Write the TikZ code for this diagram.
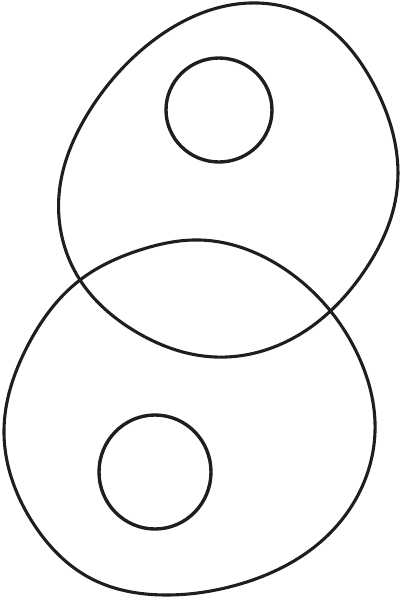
\documentclass[tikz,border=0pt]{standalone}
\usepackage{tikz}
\usetikzlibrary{calc,hobby}
\definecolor{ringgray}{RGB}{30,30,30}

\begin{document}
\begin{tikzpicture}[x=0.025cm,y=-0.025cm,
		  ring/.style={draw=ringgray,line width=2.2pt,use Hobby shortcut,closed=true},
		  smallring/.style={draw=ringgray,line width=2.4pt}
		]

			\useasboundingbox (0,0) rectangle (401,600);

			% the upper ring
			\draw[ring] (250,3) .. (317,20) .. (373,83) .. (397,190)
			  .. (363,273) .. (297,336) .. (215,357) .. (133,330)
			  .. (80,280) .. (59,195) .. (90,110) .. (150,43);

			% the lower ring
			\draw[ring] (200,240) .. (280,266) .. (357,353) .. (375,432)
			  .. (333,530) .. (233,586) .. (165,595) .. (90,578)
			  .. (33,523) .. (4,430) .. (27,347) .. (80,280) .. (140,250);

			% the two small rings
			\coordinate (c1) at (219,110);
			\coordinate (c2) at (155,472);
			\draw[smallring] (c1) circle [x radius=53,y radius=52];
			\draw[smallring] (c2) circle [x radius=56,y radius=57];

		\end{tikzpicture}
\end{document}
